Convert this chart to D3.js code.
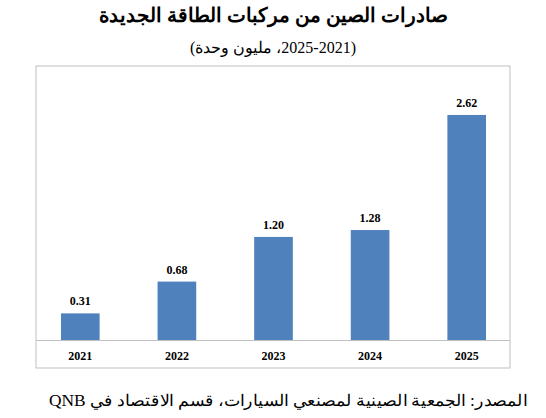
<!DOCTYPE html>
<html><head><meta charset="utf-8">
<script src="https://cdn.jsdelivr.net/npm/d3@7"></script>
<style>body{margin:0;background:#fff}text{font-family:"Liberation Serif","DejaVu Serif",serif}</style>
</head><body>
<svg id="chart" width="546" height="418"></svg>
<script>
const years = ["2021", "2022", "2023", "2024", "2025"];
const exports = [0.31, 0.68, 1.20, 1.28, 2.62];

const svg = d3.select("#chart");
const W = 546;

svg.append("text").attr("x", W / 2).attr("y", 22).attr("text-anchor", "middle")
  .attr("font-size", 20).attr("font-weight", "bold").attr("direction", "rtl")
  .text("صادرات الصين من مركبات الطاقة الجديدة");
svg.append("text").attr("x", W / 2).attr("y", 53).attr("text-anchor", "middle")
  .attr("font-size", 16).attr("direction", "rtl")
  .text("(2025-2021، مليون وحدة)");

// frame
svg.append("rect").attr("x", 36).attr("y", 66).attr("width", 474).attr("height", 302)
  .attr("fill", "none").attr("stroke", "#bfbfbf");

const x = d3.scaleBand().domain(years).range([32, 515]).paddingInner(0.6).paddingOuter(0.3);
const y = d3.scaleLinear().domain([0, 3.19]).range([340, 66]);

svg.selectAll(".bar").data(years).join("rect")
  .attr("x", d => x(d)).attr("width", x.bandwidth())
  .attr("y", (d, i) => y(exports[i])).attr("height", (d, i) => y(0) - y(exports[i]))
  .attr("fill", "#4f81bd");

svg.selectAll(".val").data(years).join("text")
  .attr("x", d => x(d) + x.bandwidth() / 2).attr("y", (d, i) => y(exports[i]) - 8)
  .attr("text-anchor", "middle").attr("font-size", 12).attr("font-weight", "bold")
  .text((d, i) => exports[i].toFixed(2));

const ax = svg.append("g").attr("transform", "translate(0,340)")
  .call(d3.axisBottom(x).tickSize(0).tickPadding(11));
ax.select(".domain").attr("stroke", "#bfbfbf").attr("d", "M36.5,0.5H509.5");
ax.selectAll("text").attr("font-size", 12).attr("font-weight", "bold")
  .attr("font-family", "Liberation Serif, serif").attr("fill", "#000");

svg.append("text").attr("x", 527).attr("y", 406).attr("text-anchor", "start")
  .attr("direction", "rtl").attr("font-size", 16)
  .attr("textLength", 478).attr("lengthAdjust", "spacingAndGlyphs")
  .text("المصدر: الجمعية الصينية لمصنعي السيارات، قسم الاقتصاد في QNB");
</script>
</body></html>
